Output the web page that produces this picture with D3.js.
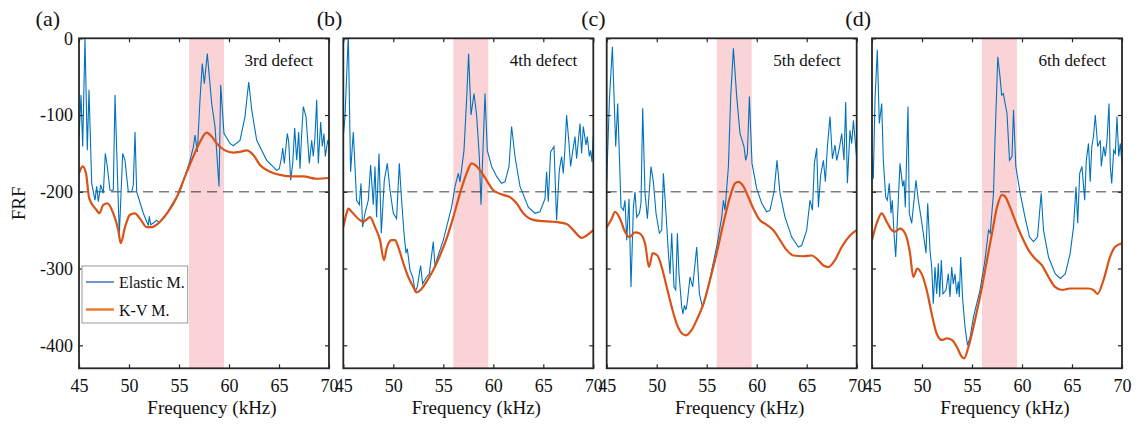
<!DOCTYPE html>
<html lang="en">
<head>
  <meta charset="UTF-8">
  <title>FRF</title>
  <style>
    body { margin: 0; background: #fff; }
    text { font-family: "Liberation Serif", "Times New Roman", serif; fill: #111; }
  </style>
</head>
<body>
  <svg width="1137" height="425"></svg>

  <script src="https://d3js.org/d3.v7.min.js"></script>
  <script>
  // 1. data: [frequency (kHz), FRF]
  var panelLabels = ["(a)", "(b)", "(c)", "(d)"];
  var defectLabels = ["3rd defect", "4th defect", "5th defect", "6th defect"];
  var seriesNames = ["Elastic M.", "K-V M."];
  var xTicks = [45, 50, 55, 60, 65, 70];
  var yTicks = [0, -100, -200, -300, -400];
  var band = [56, 59.5];
  var threshold = -200;

  var elasticA = [[45.0,-130],[45.2,-74],[45.37,-141],[45.6,0],[45.83,-146],[46.0,-67],[46.27,-189],[46.6,-211],[46.77,-193],[46.93,-213],[47.17,-191],[47.43,-202],[47.63,-150],[47.83,-167],[48.1,-198],[48.43,-198],[48.6,-74],[49.03,-257],[49.37,-150],[49.6,-159],[49.93,-200],[50.27,-200],[50.43,-191],[50.6,-122],[50.77,-200],[51.03,-211],[51.43,-228],[51.93,-244],[52.03,-232],[52.17,-243],[52.5,-240],[52.77,-237],[53.0,-240],[53.77,-228],[54.5,-212],[55.1,-200],[55.6,-180],[56.1,-159],[56.43,-142],[56.6,-126],[56.83,-148],[57.1,-80],[57.33,-33],[57.53,-59],[57.83,-20],[58.27,-85],[58.6,-115],[59.0,-193],[59.17,-61],[59.5,-124],[60.1,-137],[60.43,-140],[61.1,-133],[61.6,-102],[61.97,-57],[62.27,-93],[62.77,-133],[63.77,-159],[64.77,-172],[65.03,-170],[65.27,-154],[65.37,-143],[65.53,-163],[65.83,-124],[65.97,-135],[66.17,-185],[66.37,-163],[66.57,-117],[66.77,-159],[66.97,-122],[67.1,-170],[67.27,-124],[67.43,-89],[67.7,-102],[68.03,-163],[68.27,-133],[68.43,-154],[68.6,-128],[68.77,-80],[68.93,-163],[69.17,-109],[69.33,-141],[69.5,-124],[69.63,-154],[69.87,-133],[70.0,-141]];
  var elasticB = [[45.0,-128],[45.17,-102],[45.5,5],[45.73,-174],[46.0,-122],[46.33,-211],[46.6,-217],[46.77,-189],[46.93,-246],[47.17,-228],[47.5,-211],[47.73,-165],[48.0,-217],[48.17,-167],[48.33,-233],[48.57,-150],[48.8,-254],[49.1,-185],[49.4,-163],[49.67,-198],[50.0,-228],[50.33,-235],[50.6,-163],[50.83,-211],[51.07,-254],[51.27,-280],[51.4,-274],[51.67,-302],[51.93,-311],[52.2,-330],[52.4,-324],[52.73,-296],[52.93,-320],[53.33,-311],[53.6,-307],[54.0,-265],[54.17,-298],[54.33,-289],[55.0,-263],[55.83,-220],[56.17,-193],[56.5,-176],[56.67,-187],[57.07,-146],[57.33,-80],[57.53,-20],[57.77,-100],[58.07,-72],[58.33,-100],[58.6,-154],[58.77,-217],[59.17,-72],[59.4,-146],[59.83,-167],[60.33,-180],[60.83,-189],[61.17,-187],[61.57,-167],[61.83,-115],[62.17,-154],[62.67,-193],[63.5,-220],[64.17,-228],[64.67,-226],[65.17,-209],[65.33,-174],[65.5,-213],[65.73,-148],[66.07,-141],[66.33,-237],[66.6,-172],[66.83,-154],[67.0,-176],[67.17,-143],[67.33,-100],[67.57,-137],[67.73,-167],[67.93,-148],[68.17,-128],[68.33,-157],[68.67,-111],[68.83,-150],[69.0,-115],[69.27,-139],[69.4,-128],[69.6,-154],[69.73,-146],[69.87,-161],[70.0,-128]];
  var elasticC = [[45.0,-187],[45.27,-80],[45.57,-11],[45.9,-141],[46.1,-85],[46.27,-154],[46.43,-220],[46.67,-224],[46.83,-211],[47.0,-263],[47.23,-209],[47.43,-324],[47.67,-220],[47.83,-200],[48.0,-233],[48.27,-228],[48.43,-215],[48.6,-91],[48.83,-202],[49.07,-235],[49.43,-167],[49.67,-187],[49.93,-228],[50.27,-254],[50.5,-250],[50.67,-176],[50.93,-228],[51.17,-280],[51.33,-307],[51.5,-254],[51.73,-324],[51.9,-328],[52.07,-254],[52.23,-307],[52.5,-350],[52.63,-359],[52.77,-348],[52.93,-354],[53.07,-343],[53.33,-311],[53.6,-324],[54.0,-272],[54.27,-333],[54.5,-346],[54.6,-350],[55.0,-333],[55.5,-302],[56.07,-267],[56.5,-233],[56.67,-211],[56.83,-224],[57.17,-167],[57.4,-76],[57.67,-13],[58.0,-76],[58.33,-124],[58.73,-141],[58.9,-159],[59.07,-150],[59.27,-76],[59.53,-163],[60.0,-196],[60.5,-215],[61.0,-226],[61.33,-224],[61.73,-200],[62.03,-159],[62.33,-202],[62.83,-233],[63.5,-259],[64.17,-272],[64.5,-270],[65.0,-250],[65.33,-211],[65.57,-224],[65.77,-163],[66.0,-143],[66.17,-220],[66.4,-178],[66.67,-159],[66.87,-187],[67.07,-141],[67.33,-102],[67.57,-157],[67.83,-139],[68.0,-159],[68.27,-143],[68.5,-124],[68.73,-159],[68.9,-83],[69.07,-189],[69.33,-120],[69.5,-137],[69.67,-107],[69.87,-137],[70.0,-157]];
  var elasticD = [[45.0,-154],[45.13,-183],[45.3,-80],[45.53,-15],[45.73,-111],[45.97,-85],[46.13,-159],[46.37,-207],[46.53,-211],[46.73,-189],[46.9,-228],[47.03,-211],[47.2,-254],[47.37,-285],[47.63,-211],[47.8,-163],[48.07,-193],[48.2,-185],[48.33,-220],[48.6,-89],[48.73,-228],[48.97,-241],[49.4,-185],[49.63,-211],[49.9,-233],[50.13,-254],[50.4,-280],[50.57,-215],[50.8,-276],[50.97,-298],[51.13,-346],[51.3,-298],[51.47,-333],[51.63,-293],[51.77,-337],[51.93,-289],[52.1,-333],[52.4,-328],[52.63,-307],[52.8,-337],[52.97,-298],[53.13,-320],[53.3,-307],[53.47,-333],[53.63,-317],[53.73,-337],[53.87,-285],[54.07,-341],[54.3,-376],[54.55,-400],[54.82,-389],[55.15,-363],[55.8,-328],[56.3,-289],[56.65,-250],[56.82,-254],[57.15,-202],[57.3,-133],[57.58,-24],[57.8,-50],[57.97,-74],[58.13,-72],[58.5,-98],[58.75,-159],[59.0,-154],[59.15,-93],[59.38,-167],[59.82,-202],[60.3,-233],[60.75,-259],[61.15,-265],[61.55,-259],[61.92,-202],[62.15,-250],[62.65,-285],[63.33,-307],[63.83,-313],[64.33,-307],[64.82,-280],[65.15,-246],[65.4,-193],[65.57,-241],[65.77,-176],[66.0,-167],[66.27,-211],[66.43,-159],[66.65,-137],[66.82,-187],[66.98,-141],[67.15,-128],[67.33,-100],[67.57,-141],[67.83,-133],[67.93,-167],[68.17,-141],[68.33,-154],[68.5,-133],[68.7,-85],[68.83,-167],[68.97,-189],[69.17,-146],[69.33,-150],[69.5,-102],[69.67,-154],[69.83,-137],[70.0,-163]];

  var kvA = [[45.0,-176],[45.37,-167],[45.7,-176],[46.03,-209],[46.77,-224],[47.03,-228],[47.43,-217],[47.83,-215],[48.43,-228],[48.93,-250],[49.17,-267],[49.6,-246],[50.1,-230],[50.6,-228],[51.1,-235],[51.77,-246],[52.27,-246],[53.1,-239],[53.93,-226],[54.77,-207],[55.6,-180],[56.43,-154],[57.1,-135],[57.77,-123],[58.27,-128],[58.77,-137],[59.6,-146],[60.43,-149],[61.1,-148],[61.77,-146],[62.43,-152],[63.1,-165],[64.1,-174],[65.1,-178],[66.43,-180],[67.43,-180],[68.77,-183],[70.0,-182]];
  var kvB = [[45.0,-246],[45.33,-228],[45.5,-222],[45.83,-226],[46.67,-237],[47.0,-239],[47.67,-233],[48.17,-246],[48.67,-263],[49.07,-289],[49.33,-274],[49.83,-263],[50.17,-263],[50.5,-272],[51.0,-293],[51.5,-311],[52.0,-324],[52.33,-331],[52.73,-328],[53.33,-317],[54.0,-302],[54.67,-283],[55.33,-261],[56.0,-233],[56.67,-202],[57.33,-176],[57.83,-163],[58.17,-165],[58.67,-172],[59.33,-185],[60.0,-198],[61.0,-204],[61.67,-207],[62.33,-215],[63.0,-228],[63.67,-235],[64.67,-238],[66.0,-239],[67.33,-242],[68.0,-250],[68.83,-260],[69.33,-257],[70.0,-250]];
  var kvC = [[45.0,-246],[45.5,-235],[45.83,-226],[46.33,-235],[46.83,-252],[47.27,-259],[47.83,-253],[48.27,-254],[48.83,-267],[49.23,-298],[49.6,-280],[50.07,-283],[50.5,-298],[51.0,-324],[51.5,-350],[52.0,-372],[52.57,-385],[52.93,-387],[53.5,-380],[54.0,-367],[54.67,-346],[55.33,-315],[56.0,-280],[56.67,-241],[57.33,-207],[57.83,-189],[58.17,-187],[58.67,-193],[59.17,-207],[59.67,-222],[60.33,-237],[61.0,-243],[61.67,-250],[62.33,-263],[63.0,-276],[63.67,-283],[64.67,-284],[65.5,-283],[66.0,-287],[66.67,-296],[67.17,-298],[67.83,-289],[68.5,-272],[69.33,-257],[70.0,-250]];
  var kvD = [[45.0,-263],[45.47,-241],[45.97,-228],[46.47,-239],[46.97,-250],[47.3,-252],[47.8,-248],[48.3,-254],[48.8,-280],[49.13,-311],[49.53,-300],[49.97,-307],[50.47,-328],[50.97,-359],[51.47,-385],[51.97,-393],[52.48,-391],[52.98,-393],[53.48,-402],[53.98,-415],[54.2,-417],[54.65,-402],[55.3,-367],[56.0,-324],[56.5,-289],[57.0,-254],[57.5,-220],[58.0,-204],[58.3,-206],[58.8,-220],[59.3,-237],[60.0,-259],[60.65,-276],[61.3,-287],[62.0,-296],[62.65,-311],[63.3,-324],[64.0,-328],[64.8,-326],[65.65,-326],[66.65,-326],[67.15,-328],[67.55,-333],[68.15,-315],[68.8,-285],[69.3,-272],[70.0,-267]];

  var elastic = [elasticA, elasticB, elasticC, elasticD];
  var kv = [kvA, kvB, kvC, kvD];

  // 2. layout
  var svg = d3.select("svg");
  var panelW = 250, plotTop = 38.3, plotBottom = 368.3;
  var panelLeft = [79, 343.3, 606.7, 872];
  var blue = "#0072BD", red = "#D95319", frameColor = "#262626";
  var legendColors = ["#4472C4", "#ED7D31"];

  var x = d3.scaleLinear().domain([45, 70]).range([0, panelW]);
  var y = d3.scaleLinear().domain([-430, 0]).range([plotBottom, plotTop]);

  var line = d3.line().x(function(d) { return x(d[0]); }).y(function(d) { return y(d[1]); });
  var smooth = d3.line().curve(d3.curveMonotoneX)
    .x(function(d) { return x(d[0]); }).y(function(d) { return y(d[1]); });

  svg.append("text")
    .attr("transform", "translate(25," + (plotTop + plotBottom) / 2 + ") rotate(-90)")
    .attr("text-anchor", "middle")
    .attr("font-size", 19)
    .text("FRF");

  panelLeft.forEach(function(x0, i) {
    var g = svg.append("g").attr("transform", "translate(" + x0 + ",0)");

    g.append("clipPath").attr("id", "clip" + i)
      .append("rect").attr("x", 0).attr("y", plotTop).attr("width", panelW).attr("height", plotBottom - plotTop);

    var plot = g.append("g").attr("clip-path", "url(#clip" + i + ")");

    plot.append("rect")
      .attr("x", x(band[0])).attr("width", x(band[1]) - x(band[0]))
      .attr("y", plotTop).attr("height", plotBottom - plotTop)
      .attr("fill", "#F9D3D6");

    plot.append("line")
      .attr("x1", x(45)).attr("x2", x(70))
      .attr("y1", y(threshold)).attr("y2", y(threshold))
      .attr("stroke", "#000").attr("stroke-opacity", 0.5)
      .attr("stroke-width", 1.5).attr("stroke-dasharray", "10,6");

    plot.append("path").datum(elastic[i])
      .attr("d", line).attr("fill", "none")
      .attr("stroke", blue).attr("stroke-width", 1.1);

    plot.append("path").datum(kv[i])
      .attr("d", smooth).attr("fill", "none")
      .attr("stroke", red).attr("stroke-width", 2.2);

    // axes with inward ticks on all four sides
    var axB = g.append("g").attr("transform", "translate(0," + plotBottom + ")")
      .call(d3.axisBottom(x).tickValues(xTicks).tickSize(-4).tickPadding(11));
    var axT = g.append("g").attr("transform", "translate(0," + plotTop + ")")
      .call(d3.axisTop(x).tickValues(xTicks).tickSize(-4).tickFormat(""));
    var axL = g.append("g")
      .call(d3.axisLeft(y).tickValues(yTicks).tickSize(-4).tickPadding(6)
        .tickFormat(function(d) { return i === 0 ? (d < 0 ? "-" + (-d) : String(d)) : ""; }));
    var axR = g.append("g").attr("transform", "translate(" + panelW + ",0)")
      .call(d3.axisRight(y).tickValues(yTicks).tickSize(-4).tickFormat(""));

    [axB, axT, axL, axR].forEach(function(a) {
      a.select(".domain").remove();
      a.selectAll("line").attr("stroke", frameColor).attr("stroke-width", 1.2);
      a.selectAll("text").attr("font-size", 18).attr("font-family", null).attr("fill", "#111");
    });

    g.append("rect")
      .attr("x", 0).attr("y", plotTop).attr("width", panelW).attr("height", plotBottom - plotTop)
      .attr("fill", "none").attr("stroke", frameColor).attr("stroke-width", 1.8);

    g.append("text")
      .attr("x", panelW - 16).attr("y", 66)
      .attr("text-anchor", "end").attr("font-size", 17)
      .text(defectLabels[i]);

    g.append("text")
      .attr("x", panelW / 2 + 8).attr("y", 414)
      .attr("text-anchor", "middle").attr("font-size", 19)
      .text("Frequency (kHz)");

    g.append("text")
      .attr("x", i === 0 ? -19 : -1).attr("y", 26)
      .attr("text-anchor", "end").attr("font-size", 22)
      .text(panelLabels[i]);
  });

  // 3. legend in panel (a)
  var lg = svg.append("g").attr("transform", "translate(82,266)");
  lg.append("rect").attr("width", 105.7).attr("height", 57)
    .attr("fill", "#fff").attr("stroke", "#999").attr("stroke-width", 1);
  legendColors.forEach(function(c, k) {
    var yy = 16 + k * 27.5;
    lg.append("line").attr("x1", 4).attr("x2", 32).attr("y1", yy).attr("y2", yy)
      .attr("stroke", c).attr("stroke-width", k === 0 ? 1.5 : 2.5);
    lg.append("text").attr("x", 37).attr("y", yy + 6).attr("font-size", 16)
      .text(seriesNames[k]);
  });
  </script>
</body>
</html>
